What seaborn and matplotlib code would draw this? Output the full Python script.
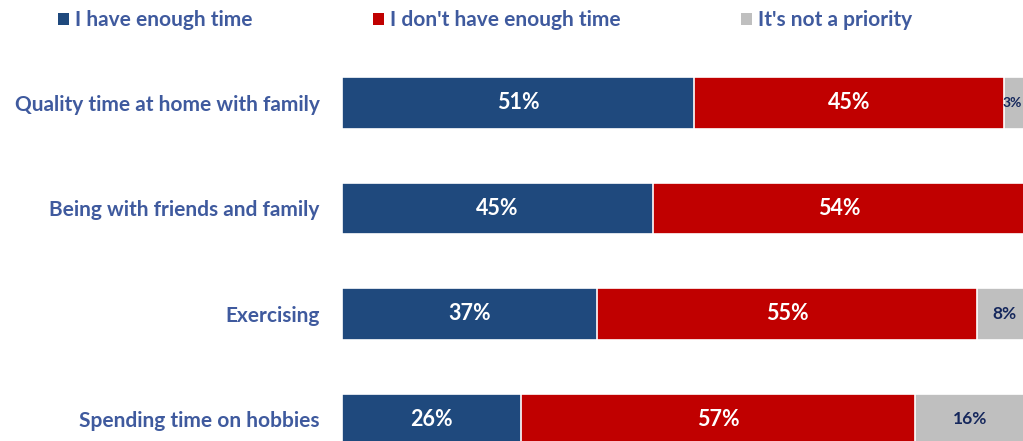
import numpy as np
import pandas as pd
import seaborn as sns
import matplotlib.pyplot as plt
from matplotlib.patches import Patch

# Survey results: share of respondents per activity
categories = ["Quality time at home with family", "Being with friends and family",
              "Exercising", "Spending time on hobbies"]
enough_time = [51, 45, 37, 26]
not_enough_time = [45, 54, 55, 57]
not_priority = [3, 1, 8, 16]
series_names = ["I have enough time", "I don't have enough time", "It's not a priority"]

BLUE = "#1F497D"
RED = "#C00000"
GRAY = "#BFBFBF"
TEXT = "#3F5A9E"
NAVY = "#15275C"

sns.set_theme(style="white")
plt.rcParams["font.family"] = ["Lato", "DejaVu Sans"]

df = pd.DataFrame({
    "category": categories,
    "enough": enough_time,
    "not_enough": not_enough_time,
    "not_priority": not_priority,
})
df["cum1"] = df["enough"]
df["cum2"] = df["enough"] + df["not_enough"]
df["cum3"] = df["cum2"] + df["not_priority"]

fig = plt.figure(figsize=(10.23, 4.41), dpi=100)
ax = fig.add_axes([342 / 1023, 0.0, 1 - 342 / 1023, (441 - 50) / 441])

# stacked bars: draw cumulative totals from the back to the front
for col, color in [("cum3", GRAY), ("cum2", RED), ("cum1", BLUE)]:
    sns.barplot(data=df, y="category", x=col, orient="h", color=color,
                saturation=1, width=0.49, edgecolor="white", linewidth=1.2, ax=ax)

xmax = 681 / 6.9
ax.set_xlim(0, xmax)
ax.set_ylim(3.204, -0.502)
ax.set_xlabel("")
ax.set_ylabel("")
ax.set_xticks([])
ax.tick_params(axis="y", length=0, pad=16)
for lbl in ax.get_yticklabels():
    lbl.set_color(TEXT)
    lbl.set_fontweight("bold")
    lbl.set_fontsize(15)
sns.despine(ax=ax, left=True, bottom=True)

# value labels centred in each segment
for i, row in df.iterrows():
    segs = [(0, row["enough"], "white", 15.5),
            (row["cum1"], row["not_enough"], "white", 15.5),
            (row["cum2"], row["not_priority"], NAVY, 12.5)]
    for j, (start, val, tcolor, size) in enumerate(segs):
        if j == 2 and val < 2:
            continue
        xc, ha = start + val / 2, "center"
        if xc + 1.6 > xmax:
            # narrow segment at the right edge: keep its label inside the frame
            xc, ha, size = xmax - 0.1, "right", 10
        ax.text(xc, i, f"{val}%", ha=ha, va="center",
                color=tcolor, fontsize=size, fontweight="bold")

handles = [Patch(facecolor=c, edgecolor="none") for c in (BLUE, RED, GRAY)]
leg = fig.legend(handles, series_names, loc="center left", bbox_to_anchor=(50 / 1023, 1 - 20 / 441),
                 ncol=3, frameon=False, handlelength=0.5, handleheight=0.5,
                 handletextpad=0.3, columnspacing=5.8, borderaxespad=0,
                 prop={"weight": "bold", "size": 15})
for t in leg.get_texts():
    t.set_color(TEXT)

fig.savefig("out.png", dpi=100)
